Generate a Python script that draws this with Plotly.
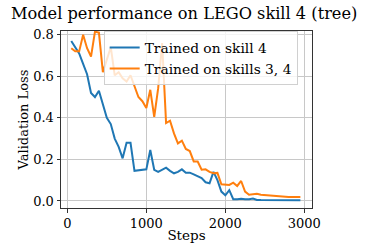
import plotly.graph_objects as go

steps = list(range(50, 3000, 50))

skill4 = [0.77, 0.74, 0.71, 0.66, 0.61, 0.52, 0.50, 0.53, 0.46, 0.40,
          0.37, 0.30, 0.26, 0.205, 0.28, 0.28, 0.145, 0.148, 0.15, 0.152,
          0.245, 0.15, 0.14, 0.15, 0.16, 0.145, 0.133, 0.14, 0.152, 0.136,
          0.136, 0.128, 0.12, 0.11, 0.09, 0.085, 0.14, 0.10, 0.045, 0.027,
          0.052, 0.008, 0.008, 0.01, 0.008, 0.008, 0.012, 0.005, 0.004, 0.004,
          0.004, 0.004, 0.004, 0.004, 0.003, 0.003, 0.003, 0.003, 0.003]

skills34 = [0.735, 0.72, 0.72, 0.80, 0.735, 0.695, 0.815, 0.81, 0.62, 0.68,
            0.74, 0.605, 0.62, 0.59, 0.575, 0.605, 0.55, 0.50, 0.48, 0.447,
            0.535, 0.405, 0.543, 0.76, 0.375, 0.386, 0.325, 0.277, 0.29, 0.25,
            0.24, 0.19, 0.19, 0.15, 0.152, 0.14, 0.133, 0.135, 0.08, 0.077,
            0.077, 0.088, 0.072, 0.096, 0.045, 0.03, 0.033, 0.034, 0.03, 0.028,
            0.028, 0.026, 0.024, 0.021, 0.02, 0.019, 0.019, 0.019, 0.019]

font = "DejaVu Serif"

fig = go.Figure()
fig.add_trace(go.Scatter(x=steps, y=skill4, mode="lines", name="Trained on skill 4",
                         line=dict(color="#1f77b4", width=2)))
fig.add_trace(go.Scatter(x=steps, y=skills34, mode="lines", name="Trained on skills 3, 4",
                         line=dict(color="#ff7f0e", width=2)))

axis_common = dict(showline=True, linecolor="#333333", linewidth=1, mirror=True,
                   showgrid=True, gridcolor="#c8c8c8", gridwidth=1,
                   ticks="outside", ticklen=3.5, tickcolor="#333333",
                   tickfont=dict(family=font, size=13, color="black"),
                   zeroline=False, automargin=False)

fig.update_layout(
    template="none",
    width=372, height=250,
    margin=dict(l=61, r=60, t=31, b=42, autoexpand=False),
    paper_bgcolor="white", plot_bgcolor="white",
    title=dict(text="Model performance on LEGO skill 4 (tree)",
               font=dict(family=font, size=16.2, color="black"),
               x=0.495, xanchor="center", xref="container",
               y=0.945, yanchor="middle"),
    xaxis=dict(range=[-80, 3097], tickvals=[0, 1000, 2000, 3000],
               title=dict(text="Steps", font=dict(family=font, size=13.5, color="black"), standoff=0),
               **axis_common),
    yaxis=dict(range=[-0.034, 0.818], tickvals=[0, 0.2, 0.4, 0.6, 0.8],
               tickformat=".1f",
               title=dict(text="Validation Loss", font=dict(family=font, size=13, color="black"), standoff=1),
               **axis_common),
    legend=dict(x=0.17, y=1.0, xanchor="left", yanchor="top",
                bgcolor="rgba(255,255,255,0.8)", bordercolor="#d0d0d0", borderwidth=1,
                font=dict(family=font, size=13.8, color="black"),
                tracegroupgap=0, itemwidth=30),
    showlegend=True,
)

fig.write_html("out.html", config={"displayModeBar": False},
               post_script="document.body.style.margin='0';document.body.style.overflow='hidden';")
